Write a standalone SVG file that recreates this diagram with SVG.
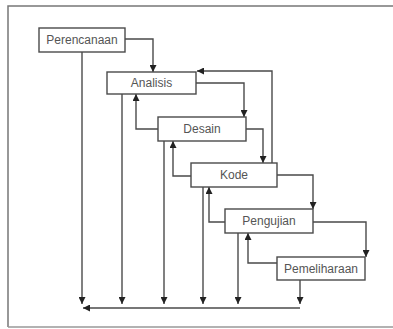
<svg xmlns="http://www.w3.org/2000/svg" width="393" height="329" viewBox="0 0 393 329">
<style>
.box{fill:#fff;stroke:#4a4a4a;stroke-width:1.4}
.lbl{font-family:"Liberation Sans",Arial,sans-serif;font-size:12px;fill:#555;text-anchor:middle}
.ln{fill:none;stroke:#4a4a4a;stroke-width:1.4}
.ar{marker-end:url(#ah)}
</style>
<defs>
<marker id="ah" viewBox="0 0 10 10" refX="10" refY="5" markerWidth="7" markerHeight="7" markerUnits="userSpaceOnUse" orient="auto">
<path d="M0,0 L10,5 L0,10 z" fill="#222"/>
</marker>
</defs>
<rect x="0" y="0" width="393" height="329" fill="#fff"/>
<g id="frame">
<path d="M8,327 V6 H393" fill="none" stroke="#777" stroke-width="1.5"/>
<line x1="8" y1="327" x2="393" y2="327" stroke="#999" stroke-width="1.5"/>
</g>
<g id="connectors">
<path class="ln ar" d="M125,39 H153 V72"/>
<path class="ln ar" d="M196,83 H244 V117"/>
<path class="ln ar" d="M246,129 H263 V163"/>
<path class="ln ar" d="M277,175 H313 V209"/>
<path class="ln ar" d="M313,222 H366 V257"/>
<path class="ln ar" d="M158,129 H136 V94"/>
<path class="ln ar" d="M191,176 H173 V141"/>
<path class="ln ar" d="M225,222 H209 V187"/>
<path class="ln ar" d="M277,263 H248 V233"/>
<path class="ln ar" d="M272,163 V71 H197"/>
<path class="ln ar" d="M82,52 V304"/>
<path class="ln ar" d="M122,94 V304"/>
<path class="ln ar" d="M164,141 V304"/>
<path class="ln ar" d="M203,187 V304"/>
<path class="ln ar" d="M238,233 V304"/>
<path class="ln ar" d="M300,280 V304"/>
<path class="ln ar" d="M300,308 H83"/>
</g>
<g id="perencanaan"><rect class="box" x="39" y="28" width="86" height="24"/><text class="lbl" x="82" y="44">Perencanaan</text></g>
<g id="analisis"><rect class="box" x="107" y="72" width="89" height="22"/><text class="lbl" x="151.5" y="87">Analisis</text></g>
<g id="desain"><rect class="box" x="158" y="117" width="88" height="24"/><text class="lbl" x="202" y="133">Desain</text></g>
<g id="kode"><rect class="box" x="191" y="163" width="86" height="24"/><text class="lbl" x="234" y="179">Kode</text></g>
<g id="pengujian"><rect class="box" x="225" y="209" width="88" height="24"/><text class="lbl" x="269" y="225">Pengujian</text></g>
<g id="pemeliharaan"><rect class="box" x="277" y="257" width="88" height="23"/><text class="lbl" x="321" y="272.5">Pemeliharaan</text></g>
</svg>
